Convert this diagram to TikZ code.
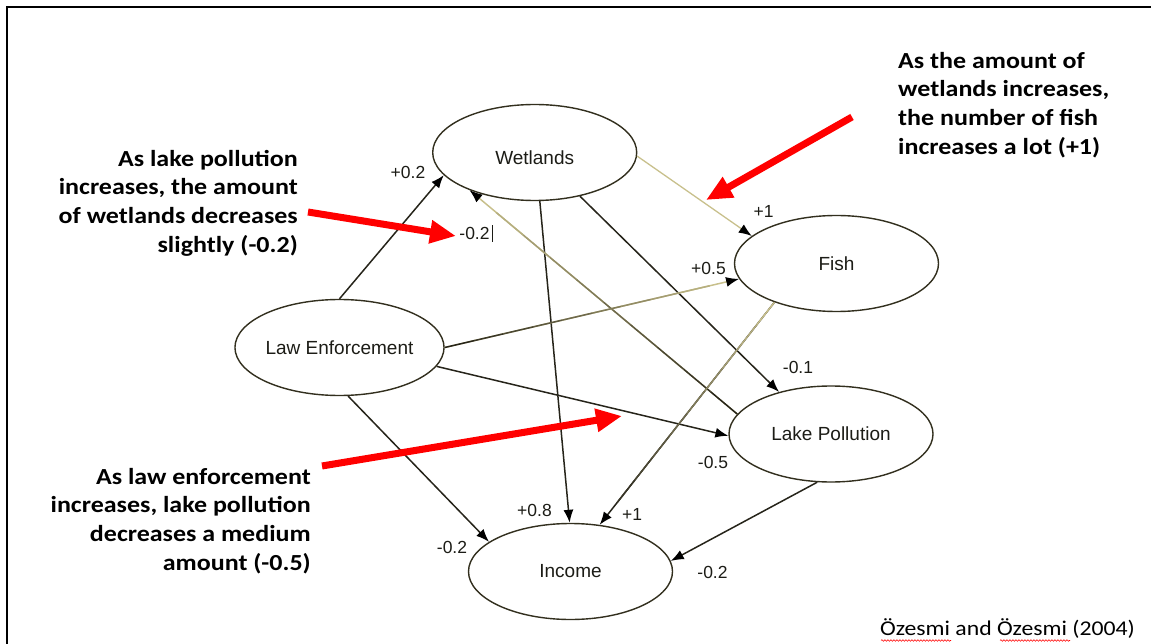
\documentclass[tikz,border=0pt]{standalone}
\usepackage{fontspec}
\setmainfont{Liberation Sans}
\newfontfamily\notefont[FakeStretch=1.13]{Carlito}
\newfontfamily\credfont[FakeStretch=1.13]{Carlito}
\usetikzlibrary{arrows.meta,calc,decorations.pathmorphing,shapes.geometric}

\definecolor{edgedark}{RGB}{38,36,26}
\definecolor{edgelight}{RGB}{200,192,140}
\definecolor{rim}{RGB}{50,47,30}
\definecolor{ink}{RGB}{28,28,22}
\definecolor{callout}{RGB}{255,0,0}

\tikzset{
  var/.style={ellipse, draw=rim, line width=1.4pt, fill=white,
    minimum width=204pt, minimum height=96pt, inner sep=0pt, text=ink,
    font=\fontsize{19}{22}\selectfont},
  vartext/.style={inner sep=0pt, text=ink, font=\fontsize{19}{22}\selectfont},
  wlabel/.style={inner sep=0pt, text=ink, font=\fontsize{17.5}{20}\selectfont},
  link/.style={line width=1.5pt, -{Latex[length=13pt,width=10pt,color=black]}},
  note/.style={inner sep=0pt, font=\notefont\bfseries\fontsize{23}{28.6}\selectfont},
  pointer/.style={draw=callout, line width=7pt,
    -{Triangle[length=26pt,width=22pt,color=callout]}},
  squiggle/.style={draw=callout, line width=0.6pt, decorate,
    decoration={snake, amplitude=0.8pt, segment length=3pt}}
}

% an edge whose stroke fades from one colour (#3) to another (#4)
\newcommand\fadelink[4]{%
  \draw[link, draw=#4] (#1) -- (#2);
  \foreach \k in {0,...,8} {%
    \pgfmathsetmacro\mixpct{100-100*\k/9}%
    \draw[line width=1.5pt, draw=#3!\mixpct!#4]
      ($(#1)!\k/10!(#2)$) -- ($(#1)!\k/10+0.1!(#2)$);
  }%
}

\begin{document}
\begin{tikzpicture}[x=1pt,y=-1pt]
\useasboundingbox (0,0) rectangle (1151,644);

% frame
\draw[line width=2pt] (7,644) -- (7,7) -- (1151,7);

% variables
\node[var] (wet)  at (534.7,152.5) {};
\node[vartext] (wettext) at ($(wet.center)+(0,5.5)$) {Wetlands};
\node[var] (fish) at (836.5,263.5) {Fish};
\node[var] (law)  at (339.5,347.5) {Law Enforcement};
\node[var] (lake) at (831,434)     {Lake Pollution};
\node[var] (inc)  at (570.5,571.5) {Income};

% connections
\draw[link, draw=edgedark] (law.90)   -- (wet.194);
\draw[link, draw=edgedark] (wet.276)  -- (inc.91);
\draw[link, draw=edgedark] (wet.316)  -- (lake.141);
\draw[link, draw=edgedark] (law.349)  -- (lake.181);
\draw[link, draw=edgedark] (law.280)  -- (inc.160);
\draw[link, draw=edgedark] (lake.254) -- (inc.6);
\draw[link, draw=edgelight, line width=1.3pt] (wet.358) -- (fish.162);
\fadelink{lake.168}{wet.210}{edgedark}{edgelight}
\fadelink{law.0}{fish.189}{edgedark}{edgelight}
\fadelink{fish.212}{inc.58}{edgelight}{edgedark}

% weights
\node[wlabel] (w1)  at (408,172.5) {+0.2};
\node[wlabel] (w2)  at (474.5,233.5) {-0.2};
\draw[line width=0.8pt, ink] ($(w2.east)+(3,-8)$) -- ($(w2.east)+(3,9)$);
\node[wlabel] (w3)  at (534.5,510) {+0.8};
\node[wlabel] (w4)  at (798,367.5) {-0.1};
\node[wlabel] (w5)  at (763.5,211) {+1};
\node[wlabel] (w6)  at (708.5,268) {+0.5};
\node[wlabel] (w7)  at (713,462.5) {-0.5};
\node[wlabel] (w8)  at (452,547.5) {-0.2};
\node[wlabel] (w9)  at (632,514) {+1};
\node[wlabel] (w10) at (712.5,572.5) {-0.2};

% explanations
\node[note, anchor=north east, align=right] (n1) at (298,150)
  {As lake pollution\\increases, the amount\\of wetlands decreases\\slightly (-0.2)};
\node[note, anchor=north west, align=left] (n2) at (898,52)
  {As the amount of\\wetlands increases,\\the number of fish\\increases a lot (+1)};
\node[note, anchor=north east, align=right] (n3) at (311,468)
  {As law enforcement\\increases, lake pollution\\decreases a medium\\amount (-0.5)};

\coordinate (p1a) at (308,212); \coordinate (p1b) at (456,236);
\coordinate (p2a) at (852,117); \coordinate (p2b) at (706,200);
\coordinate (p3a) at (322,466); \coordinate (p3b) at (622,416);
\draw[pointer] (p1a) -- (p1b);
\draw[pointer] (p2a) -- (p2b);
\draw[pointer] (p3a) -- (p3b);

% source
\node[inner sep=0pt, anchor=base west, font=\credfont\fontsize{21}{25}\selectfont]
  (src) at (880,635) {Özesmi and Özesmi (2004)};
\coordinate (u1a) at (881,640.5); \coordinate (u1b) at (951,640.5);
\coordinate (u2a) at (1000,640.5); \coordinate (u2b) at (1070,640.5);
\draw[squiggle] (u1a) -- (u1b);
\draw[squiggle] (u2a) -- (u2b);
\end{tikzpicture}
\end{document}
